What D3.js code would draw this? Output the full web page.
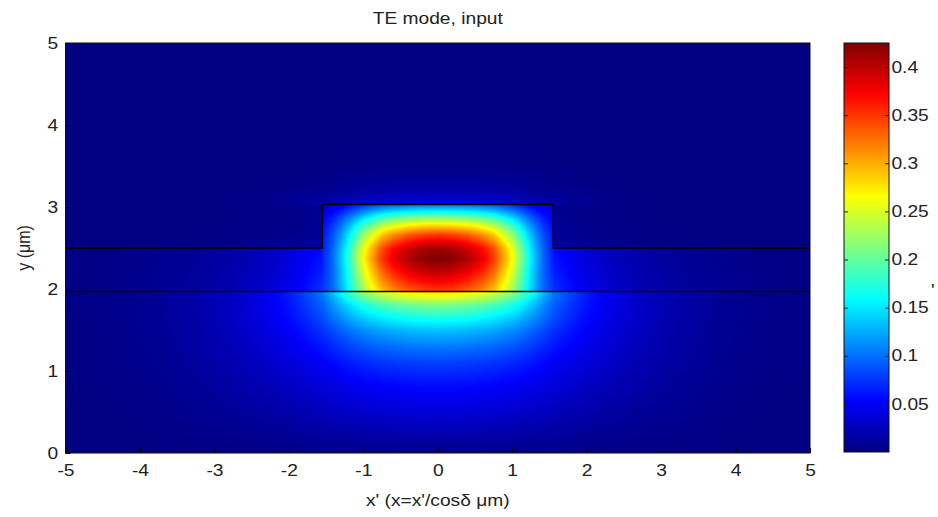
<!DOCTYPE html>
<meta charset="utf-8">
<style>
  body { margin: 0; background: #fff; }
  text { font-family: "Liberation Sans", Arial, sans-serif; fill: #222; }
</style>
<script src="https://d3js.org/d3.v7.min.js"></script>
<div id="chart"></div>
<script>

// grid of the mode field (x >= 0 half, mirrored for x < 0)
// repeated nodes mark the jumps at the layer interfaces and at the ridge wall
var xNodes = [0, 0.2, 0.4, 0.6, 0.75, 0.9, 1.0, 1.1, 1.2, 1.3, 1.42, 1.55,
              1.55, 1.75, 2.0, 2.3, 2.7, 3.2, 3.8, 4.5, 5];
var yNodes = [0, 0.4, 0.8, 1.1, 1.3, 1.5, 1.65, 1.8, 1.9, 1.97, 1.97, 2.07, 2.17, 2.27,
              2.37, 2.47, 2.5, 2.5, 2.57, 2.67, 2.77, 2.87, 2.95, 3.03, 3.03, 3.12,
              3.25, 3.45, 3.8, 5];
var fieldRows = [
  [.004, .004, .004, .004, .004, .004, .004, .003, .003, .003, .003, .003, .003, .003, .002, .002, .001, .001, 0, 0, 0],
  [.03, .03, .029, .029, .028, .027, .026, .025, .024, .023, .022, .02, .02, .018, .015, .012, .009, .006, .003, .001, 0],
  [.055, .055, .054, .052, .051, .049, .048, .046, .044, .042, .039, .036, .036, .032, .027, .022, .016, .01, .005, .002, .001],
  [.08, .079, .078, .076, .074, .071, .069, .066, .063, .06, .055, .05, .05, .044, .037, .03, .021, .013, .007, .003, .001],
  [.105, .104, .102, .099, .096, .092, .089, .085, .08, .075, .069, .062, .062, .054, .044, .035, .024, .015, .008, .003, .001],
  [.135, .134, .131, .127, .123, .117, .112, .107, .1, .093, .084, .074, .074, .063, .051, .039, .027, .016, .008, .004, .001],
  [.17, .168, .165, .159, .153, .145, .139, .131, .122, .112, .099, .085, .085, .071, .056, .043, .029, .017, .009, .004, .002],
  [.21, .208, .203, .196, .188, .177, .168, .157, .144, .13, .112, .093, .093, .077, .06, .045, .03, .018, .009, .004, .002],
  [.255, .253, .247, .237, .227, .212, .2, .185, .168, .148, .125, .1, .1, .082, .062, .046, .03, .018, .009, .004, .002],
  [.285, .283, .277, .267, .257, .24, .226, .208, .187, .163, .135, .105, .105, .085, .064, .047, .031, .018, .009, .004, .002],
  [.345, .341, .33, .311, .288, .25, .224, .19, .156, .125, .095, .076, .075, .06, .045, .033, .022, .013, .007, .003, .002],
  [.37, .365, .353, .332, .307, .266, .237, .2, .163, .129, .095, .074, .072, .058, .043, .032, .021, .013, .007, .003, .002],
  [.39, .385, .372, .35, .323, .278, .246, .206, .166, .13, .094, .07, .068, .055, .041, .03, .02, .012, .007, .003, .002],
  [.41, .405, .391, .367, .338, .29, .256, .213, .17, .132, .094, .067, .064, .052, .039, .029, .019, .012, .007, .003, .002],
  [.425, .42, .405, .38, .35, .3, .265, .22, .175, .135, .095, .065, .062, .05, .037, .028, .018, .011, .006, .003, .002],
  [.415, .41, .395, .371, .342, .293, .259, .215, .171, .132, .093, .064, .058, .046, .034, .025, .016, .01, .005, .002, .001],
  [.41, .405, .39, .367, .338, .29, .256, .213, .169, .13, .092, .063, .055, .044, .032, .024, .015, .009, .005, .002, .001],
  [.41, .405, .39, .367, .338, .29, .256, .213, .169, .13, .092, .063, .015, .011, .008, .006, .004, .002, .001, 0, 0],
  [.385, .38, .367, .344, .317, .272, .24, .2, .16, .124, .089, .062, .012, .009, .007, .005, .003, .002, .001, 0, 0],
  [.345, .341, .329, .309, .285, .245, .217, .182, .147, .115, .084, .06, .01, .008, .006, .004, .003, .002, .001, 0, 0],
  [.285, .282, .273, .257, .238, .206, .184, .156, .128, .101, .075, .056, .009, .007, .005, .004, .002, .001, 0, 0, 0],
  [.215, .213, .207, .196, .182, .159, .143, .123, .102, .083, .063, .049, .008, .006, .005, .003, .002, .001, 0, 0, 0],
  [.155, .154, .15, .142, .133, .117, .106, .092, .078, .064, .05, .041, .007, .006, .004, .003, .002, .001, 0, 0, 0],
  [.1, .099, .097, .092, .087, .077, .07, .062, .053, .045, .037, .032, .007, .005, .004, .003, .002, .001, 0, 0, 0],
  [.045, .045, .044, .042, .04, .036, .033, .03, .027, .024, .021, .018, .018, .013, .009, .006, .003, .002, .001, 0, 0],
  [.028, .028, .027, .026, .025, .023, .021, .019, .017, .015, .013, .011, .011, .008, .006, .004, .002, .001, 0, 0, 0],
  [.014, .014, .014, .013, .013, .012, .011, .01, .009, .008, .007, .006, .006, .005, .003, .002, .001, 0, 0, 0, 0],
  [.005, .005, .005, .005, .005, .004, .004, .004, .003, .003, .003, .002, .002, .002, .001, .001, 0, 0, 0, 0, 0],
  [.001, .001, .001, .001, .001, .001, .001, .001, .001, .001, .001, 0, 0, 0, 0, 0, 0, 0, 0, 0, 0],
  [0, 0, 0, 0, 0, 0, 0, 0, 0, 0, 0, 0, 0, 0, 0, 0, 0, 0, 0, 0, 0]
];

// waveguide outline
var ridgeHalfWidth = 1.55;
var substrateTop = 1.97, slabTop = 2.5, ridgeTop = 3.03;

var xTicks = [-5, -4, -3, -2, -1, 0, 1, 2, 3, 4, 5];
var yTicks = [0, 1, 2, 3, 4, 5];
var cTicks = [0.05, 0.1, 0.15, 0.2, 0.25, 0.3, 0.35, 0.4];
var cRange = [0, 0.425];

var width = 938, height = 517;

var svg = d3.select("#chart").append("svg")
    .attr("width", width)
    .attr("height", height);

var x = d3.scaleLinear().domain([-5, 5]).range([65.5, 810]);
var y = d3.scaleLinear().domain([0, 5]).range([453, 43]);
var c = d3.scaleLinear().domain(cRange).range([452, 43]);

// matlab jet
function jet(t) {
  t = Math.max(0, Math.min(1, t));
  var f = function(v) { return Math.max(0, Math.min(1, 1.5 - Math.abs(4 * t - v))); };
  return [f(3) * 255, f(2) * 255, f(1) * 255];
}

function interval(arr, v) {
  for (var i = 0; i < arr.length - 1; i++) {
    if (arr[i + 1] > arr[i] && v >= arr[i] && v <= arr[i + 1]) return i;
  }
  return arr.length - 2;
}

// shaded field (interp shading between the grid nodes)
var px0 = Math.round(x.range()[0]), px1 = Math.round(x.range()[1]);
var py0 = Math.round(y.range()[1]), py1 = Math.round(y.range()[0]);
var cw = px1 - px0, ch = py1 - py0;
var canvas = document.createElement("canvas");
canvas.width = cw; canvas.height = ch;
var ctx = canvas.getContext("2d");
var img = ctx.createImageData(cw, ch);
for (var j = 0; j < ch; j++) {
  var yv = y.invert(py0 + j + 0.5);
  var iy = interval(yNodes, yv);
  var ty = (yv - yNodes[iy]) / (yNodes[iy + 1] - yNodes[iy]);
  for (var i = 0; i < cw; i++) {
    var xv = Math.abs(x.invert(px0 + i + 0.5));
    var ix = interval(xNodes, xv);
    var tx = (xv - xNodes[ix]) / (xNodes[ix + 1] - xNodes[ix]);
    var a = fieldRows[iy], b = fieldRows[iy + 1];
    var v = (a[ix] * (1 - tx) + a[ix + 1] * tx) * (1 - ty) +
            (b[ix] * (1 - tx) + b[ix + 1] * tx) * ty;
    var col = jet((v - cRange[0]) / (cRange[1] - cRange[0]));
    var k = (j * cw + i) * 4;
    img.data[k] = col[0]; img.data[k + 1] = col[1]; img.data[k + 2] = col[2]; img.data[k + 3] = 255;
  }
}
ctx.putImageData(img, 0, 0);

svg.append("image")
    .attr("x", px0).attr("y", py0)
    .attr("width", cw).attr("height", ch)
    .attr("preserveAspectRatio", "none")
    .attr("href", canvas.toDataURL());

// waveguide lines
var line = d3.line().x(function(d) { return x(d[0]); }).y(function(d) { return y(d[1]); });
svg.append("path")
    .attr("d", line([[-5, substrateTop], [5, substrateTop]]))
    .attr("fill", "none").attr("stroke", "#000").attr("stroke-width", 1.5);
svg.append("path")
    .attr("d", line([[-5, slabTop], [-ridgeHalfWidth, slabTop], [-ridgeHalfWidth, ridgeTop],
                     [ridgeHalfWidth, ridgeTop], [ridgeHalfWidth, slabTop], [5, slabTop]]))
    .attr("fill", "none").attr("stroke", "#000").attr("stroke-width", 1.5);

// axes frame
svg.append("rect")
    .attr("x", x(-5)).attr("y", y(5))
    .attr("width", x(5) - x(-5)).attr("height", y(0) - y(5))
    .attr("fill", "none").attr("stroke", "#111").attr("stroke-width", 1);

var plain = function(d) { return String(d); };
var xAxis = svg.append("g")
    .attr("transform", "translate(0," + y(0) + ")")
    .call(d3.axisBottom(x).tickValues(xTicks).tickSize(-5).tickPadding(12).tickFormat(plain));
var yAxis = svg.append("g")
    .attr("transform", "translate(" + x(-5) + ",0)")
    .call(d3.axisLeft(y).tickValues(yTicks).tickSize(-5).tickPadding(6).tickFormat(plain));

[xAxis, yAxis].forEach(function(g) {
  g.select(".domain").remove();
  g.selectAll("line").attr("stroke", "#000");
  g.selectAll("text")
      .attr("font-size", "16px")
      .attr("font-family", "Liberation Sans, Arial, sans-serif")
      .attr("fill", "#222")
      .attr("transform", "scale(1.2,1)");
});

// colorbar
var defs = svg.append("defs");
var grad = defs.append("linearGradient")
    .attr("id", "jetgrad")
    .attr("x1", 0).attr("y1", 1).attr("x2", 0).attr("y2", 0);
[0, 0.125, 0.375, 0.625, 0.875, 1].forEach(function(t) {
  var col = jet(t);
  grad.append("stop")
      .attr("offset", t)
      .attr("stop-color", d3.rgb(col[0], col[1], col[2]).toString());
});

var cbX0 = 844, cbX1 = 889;
svg.append("rect")
    .attr("x", cbX0).attr("y", c(cRange[1]))
    .attr("width", cbX1 - cbX0).attr("height", c(cRange[0]) - c(cRange[1]))
    .attr("fill", "url(#jetgrad)")
    .attr("stroke", "#111").attr("stroke-width", 1);

var cAxis = svg.append("g")
    .attr("transform", "translate(" + cbX1 + ",0)")
    .call(d3.axisRight(c).tickValues(cTicks).tickSize(-4).tickPadding(2).tickFormat(function(d) { return String(+d.toFixed(2)); }));
cAxis.select(".domain").remove();
cAxis.selectAll("line").attr("stroke", "#222");
cAxis.selectAll("text")
    .attr("font-size", "16px")
    .attr("font-family", "Liberation Sans, Arial, sans-serif")
    .attr("fill", "#222")
    .attr("transform", "scale(1.2,1)");

var cAxisL = svg.append("g")
    .attr("transform", "translate(" + cbX0 + ",0)")
    .call(d3.axisLeft(c).tickValues(cTicks).tickSize(-4).tickFormat(""));
cAxisL.select(".domain").remove();
cAxisL.selectAll("line").attr("stroke", "#222");

svg.append("text")
    .attr("transform", "translate(931,296) scale(1.2,1)")
    .attr("font-size", "16px")
    .text("'");

// titles
svg.append("text")
    .attr("transform", "translate(" + ((x(-5) + x(5)) / 2) + ",24) scale(1.2,1)")
    .attr("text-anchor", "middle")
    .attr("font-size", "16px")
    .text("TE mode, input");

svg.append("text")
    .attr("transform", "translate(" + ((x(-5) + x(5)) / 2) + ",506) scale(1.2,1)")
    .attr("text-anchor", "middle")
    .attr("font-size", "16px")
    .text("x' (x=x'/cosδ μm)");

svg.append("text")
    .attr("transform", "translate(30," + ((y(0) + y(5)) / 2) + ") rotate(-90) scale(1,1.2)")
    .attr("text-anchor", "middle")
    .attr("font-size", "16px")
    .text("y (μm)");

</script>
